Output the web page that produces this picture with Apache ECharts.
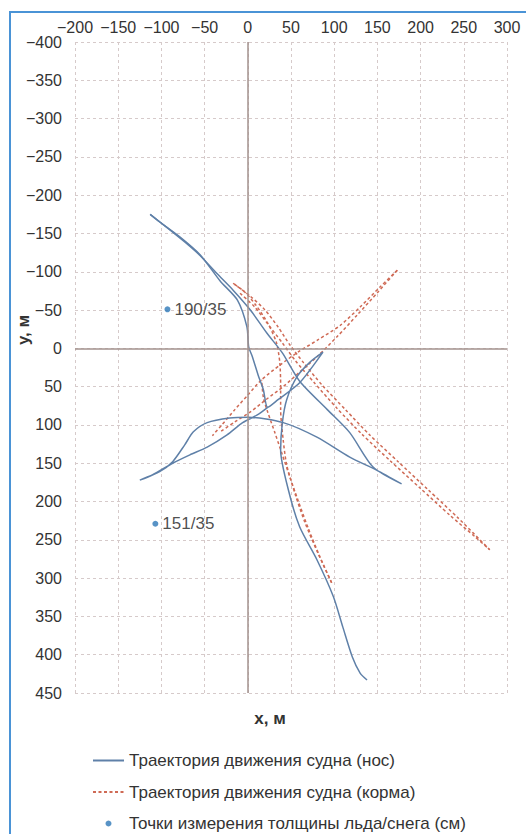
<!DOCTYPE html>
<html>
<head>
<meta charset="utf-8">
<script src="https://cdn.jsdelivr.net/npm/echarts@6/dist/echarts.min.js"></script>
<style>
html,body{margin:0;padding:0;background:#fff;}
#chart{width:526px;height:834px;}
</style>
</head>
<body>
<div id="chart"></div>
<script>
// ---- data (metres) ----
const xTicks = [-200,-150,-100,-50,0,50,100,150,200,250,300];
const yTicks = [-400,-350,-300,-250,-200,-150,-100,-50,0,50,100,150,200,250,300,350,400,450];

const noseName = 'Траектория движения судна (нос)';
const sternName = 'Траектория движения судна (корма)';
const pointName = 'Точки измерения толщины льда/снега (см)';

// bow track, pass 1
const noseTrack1 = [[-113,-175],[-102,-165],[-78,-145],[-55,-122],[-32,-88],[-12,-63],[-1,-28],[1,-2],[5,10],[12,35],[18,54],[23,77],[35,67],[60,45],[87,5],[72,18],[57,37],[45,67],[40,97],[38,133],[47,185],[60,233],[80,276],[99,324],[110,364],[121,403],[130,424],[138,433]];
// bow track, pass 2
const noseTrack2 = [[-113,-175],[-96,-160],[-73,-139],[-55,-121],[-36,-98],[-17,-76],[3,-50],[22,-20],[40,6],[60,43],[92,80],[118,110],[145,155],[178,177],[149,159],[118,142],[80,116],[41,97],[1,90],[-21,91],[-47,97],[-63,109],[-73,126],[-87,148],[-102,161],[-125,172],[-110,165],[-87,150],[-67,139],[-47,129],[-24,113],[-6,97],[11,87],[23,77]];

// stern tracks
const sternTrack1 = [[-17,-85],[3,-68],[20,-50],[35,-28],[49,-4],[64,18],[86,48],[113,80],[141,113],[174,148],[209,185],[243,221],[280,263]];
const sternTrack2 = [[-9,-72],[8,-54],[23,-32],[40,-7],[55,16],[77,45],[103,78],[132,112],[165,147],[199,182],[234,218],[263,246],[280,263]];
const sternTrack3 = [[97,306],[81,267],[66,227],[55,191],[45,152],[41,120],[38,80],[38,48],[37,18],[33,-8],[23,-33],[9,-57],[-4,-74],[-17,-85]];
const sternTrack4 = [[97,306],[83,271],[70,235],[58,198],[49,169],[40,139],[31,109],[23,83],[18,64],[16,41]];
const sternTrack5 = [[173,-102],[153,-80],[130,-54],[107,-30],[81,-11],[58,5],[37,22],[16,41],[0,61],[-15,80],[-30,100],[-41,114]];
const sternTrack6 = [[173,-102],[151,-74],[127,-44],[104,-16],[81,10],[60,31],[41,50],[21,67],[3,83],[-15,96],[-32,109]];

// ice / snow measurement points
const pointX = [-93,-107];
const pointY = [-51,229];
const pointLabel = ['190/35','151/35'];

// ---- chart ----
const FONT = 'Liberation Sans, Arial, sans-serif';
const chart = echarts.init(document.getElementById('chart'), null, {renderer:'svg'});

const blue = '#5f80a8';
const red = '#cf6a55';

function noseSeries(d){
  return {type:'line', name:noseName, data:d, symbol:'none', smooth:0.25,
    lineStyle:{color:blue, width:1.5}, itemStyle:{color:blue}, z:3};
}
function sternSeries(d){
  return {type:'line', name:sternName, data:d, symbol:'none', smooth:0.25,
    lineStyle:{color:red, width:1.5, type:[3,2.5]}, itemStyle:{color:red}, z:2};
}

const pointData = pointX.map((x,i)=>({value:[x,pointY[i]], name:pointLabel[i]}));

const option = {
  animation:false,
  backgroundColor:'#fff',
  grid:{left:75, right:19, top:42, bottom:141, containLabel:false},
  xAxis:{type:'value', position:'top', min:-200, max:300, interval:50,
    axisLine:{show:false}, axisTick:{show:false},
    axisLabel:{color:'#333', fontSize:16, fontFamily:FONT, margin:7,
      formatter:v=>String(v).replace('-','\u2212')},
    splitLine:{show:true, lineStyle:{color:'#d6caca', width:1, type:[3,3]}}},
  yAxis:{type:'value', inverse:true, min:-400, max:450, interval:50,
    axisLine:{show:false}, axisTick:{show:false},
    axisLabel:{color:'#333', fontSize:16, fontFamily:FONT, margin:13,
      formatter:v=>String(v).replace('-','\u2212')},
    splitLine:{show:true, lineStyle:{color:'#d6caca', width:1, type:[3,3]}}},
  legend:{
    orient:'vertical', left:92, top:752, height:120, padding:0, itemGap:14.5,
    itemWidth:31, itemHeight:6,
    textStyle:{color:'#333', fontSize:17, fontFamily:FONT},
    data:[
      {name:noseName, itemStyle:{opacity:0}},
      {name:sternName, itemStyle:{opacity:0}},
      {name:pointName, icon:'circle'}
    ]
  },
  graphic:[
    {type:'rect', shape:{x:10, y:12, width:530, height:840}, style:{fill:'none', stroke:'#4a93d6', lineWidth:2}, silent:true, z:100},
    {type:'text', x:270, y:718, style:{text:'х, м', fill:'#333', font:'bold 17px '+FONT, textAlign:'center', textVerticalAlign:'middle'}},
    {type:'text', x:23, y:330, rotation:Math.PI/2, style:{text:'у, м', fill:'#333', font:'bold 17px '+FONT, textAlign:'center', textVerticalAlign:'middle'}}
  ],
  series:[
    noseSeries(noseTrack1),
    noseSeries(noseTrack2),
    sternSeries(sternTrack1),
    sternSeries(sternTrack2),
    sternSeries(sternTrack3),
    sternSeries(sternTrack4),
    sternSeries(sternTrack5),
    sternSeries(sternTrack6),
    {type:'scatter', name:pointName, data:pointData, symbolSize:6,
     itemStyle:{color:'#2e78b8'}, z:4,
     label:{show:true, position:'right', distance:4, formatter:p=>p.name, color:'#222', fontSize:17, fontFamily:FONT},
     markLine:{silent:true, symbol:['none','none'], label:{show:false},
       lineStyle:{color:'#a3928e', width:1.5, type:'solid'},
       data:[{xAxis:0},{yAxis:0}]}}
  ]
};
chart.setOption(option);
</script>
</body>
</html>
